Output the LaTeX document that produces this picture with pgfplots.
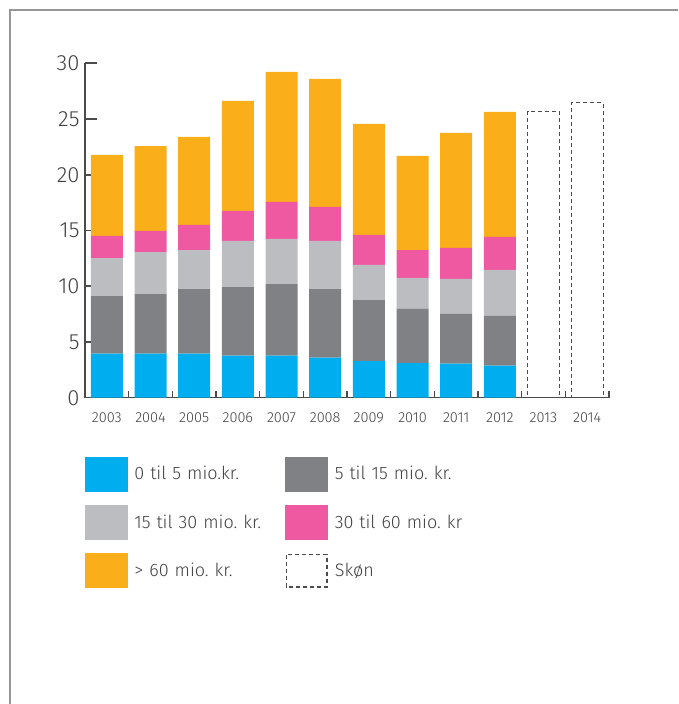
\documentclass[border=0pt]{standalone}
\usepackage{fontspec}
\setmainfont{Fira Sans Light}
\usepackage{pgfplots}
\usepackage{pgfplotstable}
\pgfplotsset{compat=1.18}
\frenchspacing
\definecolor{cblue}{RGB}{0,174,239}
\definecolor{cdgray}{RGB}{128,129,132}
\definecolor{clgray}{RGB}{188,189,192}
\definecolor{cpink}{RGB}{239,89,161}
\definecolor{corange}{RGB}{249,174,26}
\definecolor{ctext}{RGB}{65,64,66}
\definecolor{caxis}{RGB}{75,75,75}
\definecolor{cframe}{RGB}{150,150,150}

% stacked shares per year, 2003-2012
\pgfplotstableread{
x a b c d e
0 3.95 5.17 3.41 1.98 7.27
1 3.95 5.35 3.77 1.89 7.62
2 3.95 5.80 3.50 2.25 7.89
3 3.77 6.16 4.13 2.69 9.87
4 3.77 6.43 4.04 3.32 11.67
5 3.59 6.16 4.31 3.05 11.49
6 3.29 5.47 3.15 2.69 9.96
7 3.11 4.85 2.78 2.51 8.44
8 3.05 4.46 3.14 2.78 10.32
9 2.87 4.46 4.13 2.96 11.22
}\data

\pgfplotsset{
  base/.style={
    scale only axis, width=524pt, height=334.4pt,
    at={(85pt,306.3pt)}, anchor=south west,
    xmin=-0.5, xmax=11.5, ymin=0, ymax=30,
    bar width=32pt,
  },
}

\begin{document}
\begin{tikzpicture}
\useasboundingbox (0,0) rectangle (678pt,704pt);
\draw[cframe, line width=1.6pt] (10pt,0) -- (10pt,694pt) -- (678pt,694pt);

\begin{axis}[base,
  ybar stacked,
  axis x line*=bottom, axis y line*=left,
  axis line style={draw=caxis, line width=1.6pt},
  xtick={0,...,11},
  xticklabels={2003,2004,2005,2006,2007,2008,2009,2010,2011,2012,2013,2014},
  minor xtick={0.5,1.5,...,11.5},
  ytick={0,5,...,30},
  tick align=inside,
  major tick length=12pt, minor tick length=7pt,
  tick style={draw=caxis, line width=1.6pt},
  major x tick style={draw=none},
  /pgf/number format/assume math mode=true,
  yticklabel style={font=\fontsize{22}{22}\selectfont, text=ctext, xshift=-2pt},
  xticklabel style={font=\fontsize{14.5}{15}\selectfont, text=ctext, yshift=-11pt},
]
\addplot[fill=cblue, draw=none] table[x=x, y=a] {\data};
\addplot[fill=cdgray, draw=none] table[x=x, y=b] {\data};
\addplot[fill=clgray, draw=none] table[x=x, y=c] {\data};
\addplot[fill=cpink, draw=none] table[x=x, y=d] {\data};
\addplot[fill=corange, draw=none] table[x=x, y=e] {\data};
\end{axis}

\begin{axis}[base,
  ybar, hide axis,
  legend columns=2,
  legend cell align=left,
  legend style={at={(axis description cs:0,-0.1764)}, anchor=north west,
    draw=none, fill=none, inner sep=0pt, outer sep=0pt, row sep=14pt,
    nodes={inner sep=0pt, text width=151pt, align=left, text=ctext,
      font=\fontsize{18}{20}\selectfont},
    /tikz/every odd column/.append style={column sep=7pt}},
]
\addlegendimage{legend image code/.code={\fill[cblue] (0pt,-17pt) rectangle (42pt,17pt);}}
\addlegendentry{0 til 5 mio.kr.}
\addlegendimage{legend image code/.code={\fill[cdgray] (0pt,-17pt) rectangle (42pt,17pt);}}
\addlegendentry{5 til 15 mio. kr.}
\addlegendimage{legend image code/.code={\fill[clgray] (0pt,-17pt) rectangle (42pt,17pt);}}
\addlegendentry{15 til 30 mio. kr.}
\addlegendimage{legend image code/.code={\fill[cpink] (0pt,-17pt) rectangle (42pt,17pt);}}
\addlegendentry{30 til 60 mio. kr}
\addlegendimage{legend image code/.code={\fill[corange] (0pt,-17pt) rectangle (42pt,17pt);}}
\addlegendentry{> 60 mio. kr.}
% estimated values 2013-2014
\addplot[fill=none, draw=caxis, line width=1.3pt, dash pattern=on 4pt off 3pt,
  legend image code/.code={\draw[caxis, line width=1.3pt, dash pattern=on 4pt off 3pt] (0.6pt,-16.4pt) rectangle (41.4pt,16.4pt);}]
  coordinates {(10,25.67) (11,26.47)};
\addlegendentry{Skøn}
\end{axis}
\end{tikzpicture}
\end{document}
